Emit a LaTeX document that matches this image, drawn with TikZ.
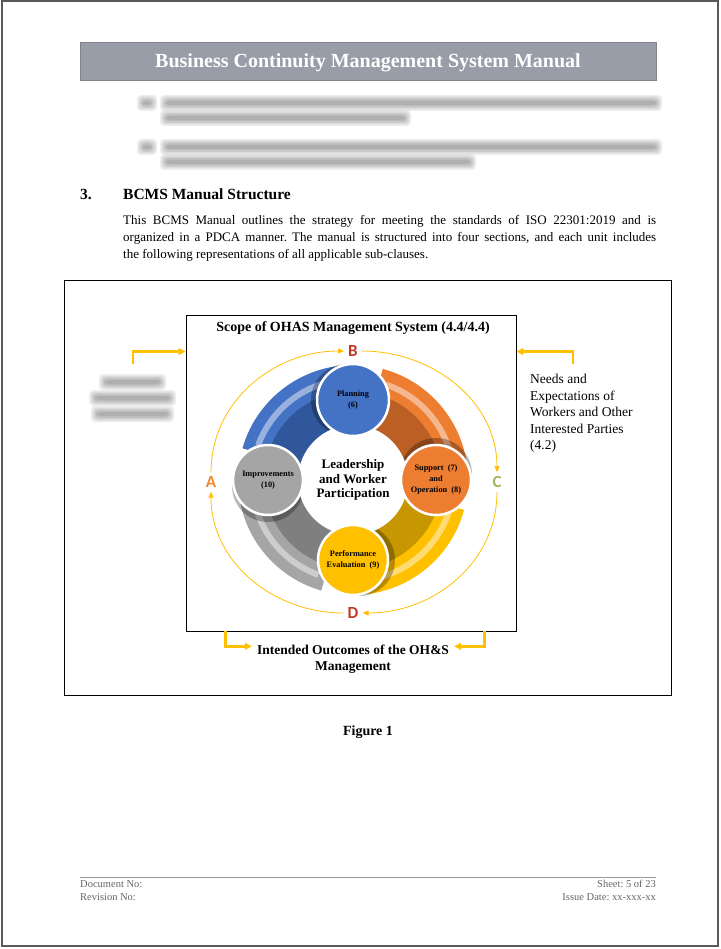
\documentclass[tikz,border=0pt]{standalone}
\usepackage{fontspec}
\setmainfont{Liberation Serif}
\newfontfamily\cyclefont{Carlito}
\usepackage{tikz}
\usetikzlibrary{arrows.meta, positioning}
\frenchspacing
\definecolor{barGray}{HTML}{989DA7}
\definecolor{barEdge}{HTML}{7E828A}
\definecolor{ohsYellow}{HTML}{FFC000}
\definecolor{planBlue}{HTML}{4472C4}
\definecolor{planDark}{HTML}{30579B}
\definecolor{doOrange}{HTML}{ED7D31}
\definecolor{doDark}{HTML}{BC5F24}
\definecolor{checkYellow}{HTML}{FFC000}
\definecolor{checkDark}{HTML}{C69700}
\definecolor{actGray}{HTML}{A5A5A5}
\definecolor{actDark}{HTML}{7F7F7F}
\definecolor{letterRed}{HTML}{C0392B}
\definecolor{letterGreen}{HTML}{9BBB59}
\definecolor{letterOrange}{HTML}{F0882E}
\definecolor{footGray}{HTML}{666666}
% blurred text line: x from, x to, y
\newcommand{\blurbar}[3]{%
  \foreach \b in {8,6.5,5,3.5,2}{
    \fill[black, opacity=0.07, rounded corners=4pt] (#1-\b+2,#3-\b) rectangle (#2+\b-2,#3+\b);
  }}
% ring segment: start angle, end angle, colour, dark colour
\newcommand{\ringseg}[4]{%
  \fill[#3] (#1:115) arc[start angle=#1, end angle=#2, radius=115] -- (#2:50) arc[start angle=#2, end angle=#1, radius=50] -- cycle;
  \fill[#4] (#1:89) arc[start angle=#1, end angle=#2, radius=89] -- (#2:50) arc[start angle=#2, end angle=#1, radius=50] -- cycle;
  \draw[white, opacity=0.45, line width=6pt] (#1-4:101) arc[start angle=#1-4, end angle=#2+10, radius=101];}

\begin{document}
\begin{tikzpicture}[x=1pt, y=-1pt,
    titlebar/.style={fill=barGray, draw=barEdge, line width=0.8pt, minimum width=576pt, minimum height=38pt, inner sep=0pt, text depth=0pt, text=white, font=\bfseries\fontsize{20}{24}\selectfont},
    textline/.style={anchor=base west, inner sep=0pt, font=\fontsize{13}{16}\selectfont},
    boldline/.style={anchor=base, inner sep=0pt, font=\bfseries\fontsize{14}{17}\selectfont},
    foot/.style={inner sep=0pt, text=footGray, font=\fontsize{10.5}{13}\selectfont},
    yarrow/.style={-{Triangle[length=7pt, width=7pt]}, draw=ohsYellow, line width=2.4pt},
    cyc/.style={-{Triangle[length=6pt, width=5pt]}, draw=ohsYellow, line width=0.8pt},
    phase/.style={circle, draw=white, line width=2.5pt, minimum size=70pt, inner sep=0pt, align=center, font=\bfseries\fontsize{8.3}{11}\selectfont},
    letter/.style={inner sep=4pt, font=\cyclefont\bfseries\fontsize{17}{17}\selectfont}
  ]
  \useasboundingbox (0,0) rectangle (720,949);
  \fill[white] (0,0) rectangle (720,949);
  \draw[line width=1.2pt, draw=black!65] (2,1) rectangle (718,946);

  % header
  \node[titlebar] (title) at (368,61) {Business Continuity Management System Manual};

  % blurred list items
  \blurbar{143}{151}{103}
  \blurbar{166}{656}{103}
  \blurbar{166}{405}{118}
  \blurbar{143}{151}{147}
  \blurbar{166}{656}{147}
  \blurbar{166}{470}{162}

  % section text
  \node[textline, font=\bfseries\fontsize{15.5}{18}\selectfont] (secnum) at (80,200) {3.};
  \node[textline, font=\bfseries\fontsize{15.5}{18}\selectfont] (sechead) at (123,200) {BCMS Manual Structure};
  \node[textline] (para1) at (123,224.5) {\makebox[533pt][s]{This BCMS Manual outlines the strategy for meeting the standards of ISO 22301:2019 and is}};
  \node[textline] (para2) at (123,241.5) {\makebox[533pt][s]{organized in a PDCA manner. The manual is structured into four sections, and each unit includes}};
  \node[textline] (para3) at (123,258.5) {the following representations of all applicable sub-clauses.};

  % figure frame
  \draw[line width=1pt] (64,281) rectangle (671,695);
  \node[draw, line width=0.9pt, minimum width=330pt, minimum height=316pt, inner sep=0pt] (scopebox) at (351,473) {};
  \node[boldline] (scopetitle) at (353,331) {Scope of OHAS Management System (4.4/4.4)};

  % inputs
  \coordinate (extin) at (133,364);
  \draw[yarrow] (extin) |- ([yshift=-37pt]scopebox.north west);
  \blurbar{105}{160}{382}
  \blurbar{95}{170}{398}
  \blurbar{97}{168}{414}
  \coordinate (needsin) at (573,364);
  \draw[yarrow] (needsin) |- ([yshift=-37pt]scopebox.north east);
  \node[anchor=north west, inner sep=0pt, align=left, font=\fontsize{13.5}{16.5}\selectfont] (needs) at (530,374) {Needs and\\Expectations of\\Workers and Other\\Interested Parties\\(4.2)};

  % outcomes
  \node[boldline, font=\bfseries\fontsize{13.5}{16}\selectfont] (outc1) at (353,654) {Intended Outcomes of the OH\&S};
  \node[boldline, font=\bfseries\fontsize{13.5}{16}\selectfont] (outc2) at (353,670) {Management};
  \draw[yarrow] ([xshift=40pt]scopebox.south west) |- ([xshift=-5pt,yshift=3pt]outc1.west);
  \draw[yarrow] ([xshift=-32pt]scopebox.south east) |- ([xshift=5pt,yshift=3pt]outc1.east);

  % PDCA wheel
  \begin{scope}[shift={(353,480)}, y=1pt]
    \ringseg{164}{88}{planBlue}{planDark}
    \ringseg{75}{-2}{doOrange}{doDark}
    \ringseg{-15}{-92}{checkYellow}{checkDark}
    \ringseg{-106}{-182}{actGray}{actDark}
    \fill[black, opacity=0.28] ([xshift=-6pt]90:80) circle[radius=36];
    \fill[black, opacity=0.28] ([yshift=6pt]0:83) circle[radius=36];
    \fill[black, opacity=0.28] ([xshift=6pt]-90:80) circle[radius=36];
    \fill[black, opacity=0.28] ([yshift=-6pt]180:85) circle[radius=36];
    \node[circle, fill=white, minimum size=110pt, inner sep=0pt, align=center, font=\bfseries\fontsize{13}{14.5}\selectfont] (lead) at (0,0) {Leadership\\and Worker\\Participation};
    \node[phase, fill=planBlue, minimum size=72pt] (plan) at (90:80) {Planning\\(6)};
    \node[phase, fill=doOrange] (supp) at (0:83) {Support~~(7)\\and\\Operation~~(8)};
    \node[phase, fill=checkYellow] (perf) at (-90:80) {Performance\\Evaluation~~(9)};
    \node[phase, fill=actGray] (impr) at (180:85) {Improvements\\(10)};

    \node[letter, text=letterOrange] (lblA) at (-142,-2) {A};
    \node[letter, text=letterRed] (lblB) at (0,129) {B};
    \node[letter, text=letterGreen] (lblC) at (144,-2) {C};
    \node[letter, text=letterRed] (lblD) at (0,-133) {D};
    \draw[cyc] (lblA) to[out=90, in=180] (lblB);
    \draw[cyc] (lblB) to[out=0, in=90] (lblC);
    \draw[cyc] (lblC) to[out=-90, in=0] (lblD);
    \draw[cyc] (lblD) to[out=180, in=-90] (lblA);
  \end{scope}

  \node[boldline] (figcap) at (368,735) {Figure 1};

  % footer
  \draw[line width=1pt, draw=black!40] (80,877) -- (656,877);
  \node[foot, anchor=base west] (docno) at (80,887.5) {Document No:};
  \node[foot, anchor=base west] (revno) at (80,900.5) {Revision No:};
  \node[foot, anchor=base east] (sheet) at (656,887.5) {Sheet: 5 of 23};
  \node[foot, anchor=base east] (issue) at (656,900.5) {Issue Date: xx-xxx-xx};
\end{tikzpicture}
\end{document}
